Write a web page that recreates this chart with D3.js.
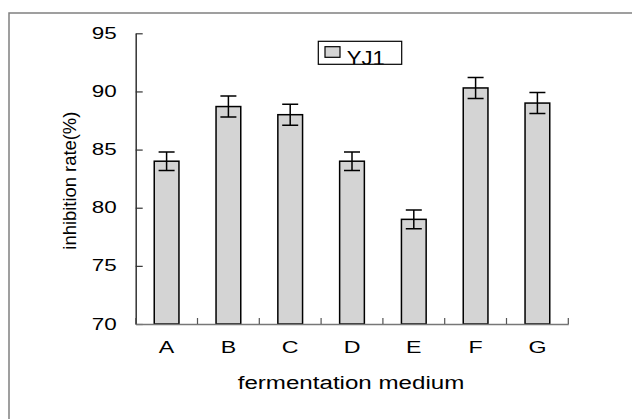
<!DOCTYPE html>
<html>
<head>
<meta charset="utf-8">
<script src="https://cdn.jsdelivr.net/npm/d3@7"></script>
<style>
  html, body { margin: 0; padding: 0; background: #fff; }
  svg { display: block; font-family: "Liberation Sans", Arial, sans-serif; }
</style>
</head>
<body>
<div id="chart"></div>
<script>
const categories = ["A", "B", "C", "D", "E", "F", "G"];
const values = [84.0, 88.7, 88.0, 84.0, 79.0, 90.3, 89.0];
const errors = [0.8, 0.9, 0.9, 0.8, 0.8, 0.9, 0.9];
const yTicks = [70, 75, 80, 85, 90, 95];
const seriesName = "YJ1";

const W = 632, H = 419;
const plotLeft = 135.7, plotRight = 568.3, plotTop = 33.3, plotBottom = 324;

const svg = d3.select("#chart").append("svg")
  .attr("width", W)
  .attr("height", H);

// outer frame (runs off the right and bottom)
svg.append("path")
  .attr("d", `M9,${H + 5}V13H${W + 5}`)
  .attr("fill", "none")
  .attr("stroke", "#808080")
  .attr("stroke-width", 1.5);

const x = d3.scaleBand()
  .domain(categories)
  .range([plotLeft, plotRight])
  .paddingInner(0.6)
  .paddingOuter(0.3);

const y = d3.scaleLinear()
  .domain([70, 95])
  .range([plotBottom, plotTop]);

// stretch text horizontally like the original
function stretch(sel, k) {
  sel.each(function () {
    const len = this.getComputedTextLength();
    d3.select(this)
      .attr("textLength", len * k)
      .attr("lengthAdjust", "spacingAndGlyphs");
  });
}

// bars
svg.selectAll("rect.bar")
  .data(categories)
  .enter()
  .append("rect")
  .attr("class", "bar")
  .attr("x", d => x(d))
  .attr("y", (d, i) => y(values[i]))
  .attr("width", x.bandwidth())
  .attr("height", (d, i) => y(70) - y(values[i]))
  .attr("fill", "#d4d4d4")
  .attr("stroke", "#000")
  .attr("stroke-width", 1.5);

// error bars
const cap = 8;
const eb = svg.append("g")
  .attr("stroke", "#000")
  .attr("stroke-width", 1.5)
  .attr("fill", "none");
categories.forEach((c, i) => {
  const cx = x(c) + x.bandwidth() / 2;
  const y1 = y(values[i] + errors[i]);
  const y2 = y(values[i] - errors[i]);
  eb.append("path")
    .attr("d", `M${cx},${y1}V${y2}M${cx - cap},${y1}H${cx + cap}M${cx - cap},${y2}H${cx + cap}`);
});

// Y axis
const yAxis = svg.append("g")
  .attr("transform", `translate(${plotLeft},0)`)
  .call(d3.axisLeft(y).tickValues(yTicks).tickSizeInner(-7).tickSizeOuter(0).tickPadding(19));
yAxis.select(".domain").attr("stroke", "#333").attr("stroke-width", 1.5);
yAxis.selectAll(".tick line").attr("stroke", "#333").attr("stroke-width", 1.2);
yAxis.selectAll(".tick text")
  .attr("font-size", 16)
  .attr("fill", "#000")
  .attr("font-family", "Liberation Sans, Arial, sans-serif")
  .call(stretch, 1.4);

// X axis
const xAxis = svg.append("g")
  .attr("transform", `translate(0,${plotBottom})`)
  .call(d3.axisBottom(x).tickSize(0).tickPadding(18));
xAxis.select(".domain").attr("stroke", "#777").attr("stroke-width", 1.5);
xAxis.selectAll(".tick text")
  .attr("font-size", 16)
  .attr("fill", "#000")
  .attr("font-family", "Liberation Sans, Arial, sans-serif")
  .call(stretch, 1.45);

// tick marks between categories (inward)
const bounds = categories.map(c => x(c) - x.step() * x.paddingOuter()).concat([plotRight]);
xAxis.selectAll("line.sep")
  .data(bounds)
  .enter()
  .append("line")
  .attr("class", "sep")
  .attr("x1", d => d)
  .attr("x2", d => d)
  .attr("y1", 0)
  .attr("y2", -6)
  .attr("stroke", "#555")
  .attr("stroke-width", 1.2);

// axis titles
svg.append("text")
  .attr("x", (plotLeft + plotRight) / 2 - 1)
  .attr("y", 389)
  .attr("text-anchor", "middle")
  .attr("font-size", 18)
  .text("fermentation medium")
  .call(stretch, 1.34);

svg.append("text")
  .attr("transform", `translate(76,${(plotTop + plotBottom) / 2 + 2}) rotate(-90)`)
  .attr("text-anchor", "middle")
  .attr("font-size", 18.5)
  .attr("textLength", 138)
  .attr("lengthAdjust", "spacingAndGlyphs")
  .text("inhibition rate(%)");

// legend
const lg = svg.append("g");
lg.append("clipPath").attr("id", "lgclip")
  .append("rect")
  .attr("x", 318.3).attr("y", 41.3).attr("width", 83.4).attr("height", 23);
lg.append("rect")
  .attr("x", 325).attr("y", 46.7).attr("width", 15).attr("height", 10.6)
  .attr("fill", "#d4d4d4").attr("stroke", "#000").attr("stroke-width", 1.2);
lg.append("text")
  .attr("x", 346.7)
  .attr("y", 65)
  .attr("font-size", 21)
  .attr("textLength", 38)
  .attr("lengthAdjust", "spacingAndGlyphs")
  .attr("clip-path", "url(#lgclip)")
  .text(seriesName);
lg.append("rect")
  .attr("x", 318.3).attr("y", 41.3).attr("width", 83.4).attr("height", 23)
  .attr("fill", "none").attr("stroke", "#000").attr("stroke-width", 1.2);
</script>
</body>
</html>
